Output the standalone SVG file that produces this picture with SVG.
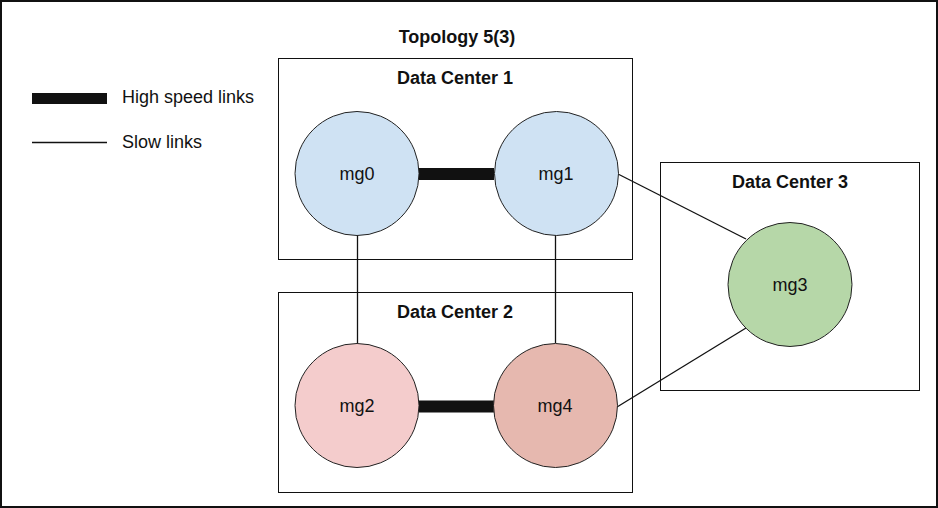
<svg xmlns="http://www.w3.org/2000/svg" width="938" height="508" viewBox="0 0 938 508">
<style>
.frame{fill:#fff;stroke:#111;stroke-width:2}
.dc{fill:none;stroke:#111;stroke-width:1}
.node{stroke:#222;stroke-width:1}
.slow{stroke:#111;stroke-width:1.3;fill:none}
.fast{stroke:#111;stroke-width:12;fill:none}
.t{font-family:"Liberation Sans",Arial,sans-serif;font-size:18px;fill:#111}
.b{font-weight:bold;text-anchor:middle}
.c{text-anchor:middle}
</style>
<rect class="frame" x="1" y="1" width="936" height="506"/>
<text class="t b" x="457" y="43">Topology 5(3)</text>
<g id="legend">
<rect x="32" y="93" width="75" height="11" fill="#111"/>
<text class="t" x="122" y="103">High speed links</text>
<line class="slow" x1="32" y1="142.5" x2="107" y2="142.5"/>
<text class="t" x="122" y="148">Slow links</text>
</g>
<g id="dc1"><rect class="dc" x="278.5" y="58.5" width="354" height="201"/><text class="t b" x="455" y="84">Data Center 1</text></g>
<g id="dc2"><rect class="dc" x="278.5" y="292.5" width="354" height="200"/><text class="t b" x="455" y="318">Data Center 2</text></g>
<g id="dc3"><rect class="dc" x="660.5" y="162.5" width="259" height="228"/><text class="t b" x="790" y="188">Data Center 3</text></g>
<g id="connectors">
<line class="fast" x1="419" y1="174" x2="494" y2="174"/>
<line class="fast" x1="419" y1="406.5" x2="494" y2="406.5"/>
<line class="slow" x1="357.5" y1="235" x2="357.5" y2="343"/>
<line class="slow" x1="555.5" y1="235" x2="555.5" y2="343"/>
<line class="slow" x1="618" y1="174" x2="746" y2="239"/>
<line class="slow" x1="617" y1="407" x2="746" y2="328"/>
</g>
<g id="mg0"><circle class="node" cx="357" cy="173.5" r="62" fill="#cfe2f3"/><text class="t c" x="357" y="180">mg0</text></g>
<g id="mg1"><circle class="node" cx="556.5" cy="173.5" r="62" fill="#cfe2f3"/><text class="t c" x="556" y="180">mg1</text></g>
<g id="mg2"><circle class="node" cx="357" cy="405.5" r="62" fill="#f4cccc"/><text class="t c" x="357" y="412">mg2</text></g>
<g id="mg4"><circle class="node" cx="555.5" cy="405.5" r="62" fill="#e6b8af"/><text class="t c" x="555" y="412">mg4</text></g>
<g id="mg3"><circle class="node" cx="790" cy="284.5" r="62" fill="#b6d7a8"/><text class="t c" x="790" y="291">mg3</text></g>
</svg>
